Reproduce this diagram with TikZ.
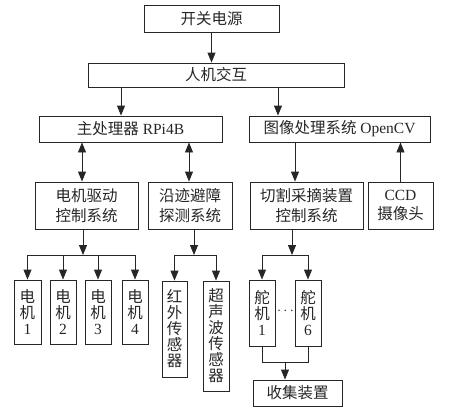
\documentclass[tikz,border=0pt]{standalone}
\usepackage{fontspec}
\setmainfont{Liberation Serif}
\newfontfamily\cjk{Noto Sans CJK SC}
\usetikzlibrary{arrows.meta}
\newcommand{\zh}[1]{{\cjk #1}}
\begin{document}
\begin{tikzpicture}[x=1pt,y=-1pt,
  box/.style={draw=black!85,line width=0.9pt,rectangle,inner sep=0pt,align=center,
    font=\fontsize{15.5}{19.5}\selectfont,text=black!85},
  vbox/.style={box,font=\fontsize{15.5}{16}\selectfont},
  arr/.style={draw=black!85,line width=0.9pt,-{Triangle[length=10pt,width=8pt]}},
  darr/.style={draw=black!85,line width=0.9pt,{Triangle[length=10pt,width=8pt]}-{Triangle[length=10pt,width=8pt]}},
  ln/.style={draw=black!85,line width=0.9pt}]
\useasboundingbox (0,0) rectangle (450,413);
% boxes
\node[box,minimum width=135pt,minimum height=27pt] (pow) at (211.5,18.5) {\zh{开关电源}};
\node[box,minimum width=256pt,minimum height=24pt] (hmi) at (216,75) {\zh{人机交互}};
\node[box,minimum width=183pt,minimum height=26pt] (cpu) at (130.5,129) {\zh{主处理器} RPi4B};
\node[box,minimum width=181pt,minimum height=26pt] (img) at (339.5,129) {\zh{图像处理系统} OpenCV};
\node[box,minimum width=103pt,minimum height=47pt] (mdrv) at (86.5,205.5) {\zh{电机驱动}\\\zh{控制系统}};
\node[box,minimum width=84pt,minimum height=47pt] (trk) at (190,205.5) {\zh{沿迹避障}\\\zh{探测系统}};
\node[box,minimum width=113pt,minimum height=47pt] (cut) at (306.5,205.5) {\zh{切割采摘装置}\\\zh{控制系统}};
\node[box,minimum width=65pt,minimum height=47pt] (ccd) at (400.5,205.5) {CCD\\\zh{摄像头}};
\node[vbox,minimum width=27pt,minimum height=64pt] (m1) at (27.5,312) {\zh{电}\\\zh{机}\\1};
\node[vbox,minimum width=26pt,minimum height=64pt] (m2) at (63,312) {\zh{电}\\\zh{机}\\2};
\node[vbox,minimum width=26pt,minimum height=64pt] (m3) at (98,312) {\zh{电}\\\zh{机}\\3};
\node[vbox,minimum width=26pt,minimum height=64pt] (m4) at (135,312) {\zh{电}\\\zh{机}\\4};
\node[vbox,minimum width=25pt,minimum height=96pt] (ir) at (174.5,329) {\zh{红}\\\zh{外}\\\zh{传}\\\zh{感}\\\zh{器}};
\node[vbox,minimum width=26pt,minimum height=110pt] (us) at (216,336) {\zh{超}\\\zh{声}\\\zh{波}\\\zh{传}\\\zh{感}\\\zh{器}};
\node[vbox,minimum width=26pt,minimum height=66pt] (s1) at (262,313) {\zh{舵}\\\zh{机}\\1};
\node[vbox,minimum width=26pt,minimum height=66pt] (s6) at (308,313) {\zh{舵}\\\zh{机}\\6};
\node[font=\fontsize{15.5}{16}\selectfont,text=black!85,inner sep=0pt] (dots) at (285.5,311) {$\cdots$};
\node[box,minimum width=89pt,minimum height=26pt] (col) at (297.5,393) {\zh{收集装置}};
% coordinates
\coordinate (mbus) at (83,255);
\coordinate (tbus) at (194,255);
\coordinate (cbus) at (292,255);
\coordinate (jn) at (285,362);
% connectors
\draw[arr] (pow.south) -- (pow.south |- hmi.north);
\draw[arr] ([xshift=-95pt]hmi.south) -- ([xshift=-95pt]hmi.south |- cpu.north);
\draw[arr] ([xshift=62pt]hmi.south) -- ([xshift=62pt]hmi.south |- img.north);
\draw[darr] ([xshift=-4.5pt]mdrv.north |- cpu.south) -- ([xshift=-4.5pt]mdrv.north);
\draw[darr] ([xshift=-1pt]trk.north |- cpu.south) -- ([xshift=-1pt]trk.north);
\draw[arr] ([xshift=-11.5pt]cut.north |- img.south) -- ([xshift=-11.5pt]cut.north);
\draw[arr] (ccd.north) -- (ccd.north |- img.south);
% motor bus
\draw[arr] (mdrv.south -| mbus) -- (mbus);
\draw[ln] (m1.north |- mbus) -- (m4.north |- mbus);
\foreach \m in {m1,m2,m3,m4} \draw[arr] (\m.north |- mbus) -- (\m.north);
% sensor bus
\draw[arr] (trk.south -| tbus) -- (tbus);
\draw[ln] (ir.north |- tbus) -- (us.north |- tbus);
\foreach \m in {ir,us} \draw[arr] (\m.north |- tbus) -- (\m.north);
% servo bus
\draw[arr] (cut.south -| cbus) -- (cbus);
\draw[ln] (s1.north |- cbus) -- (s6.north |- cbus);
\foreach \m in {s1,s6} \draw[arr] (\m.north |- cbus) -- (\m.north);
% join to collector
\draw[ln] (s1.south) -- (s1.south |- jn) -- (s6.south |- jn) -- (s6.south);
\draw[arr] (jn) -- (jn |- col.north);
\end{tikzpicture}
\end{document}
